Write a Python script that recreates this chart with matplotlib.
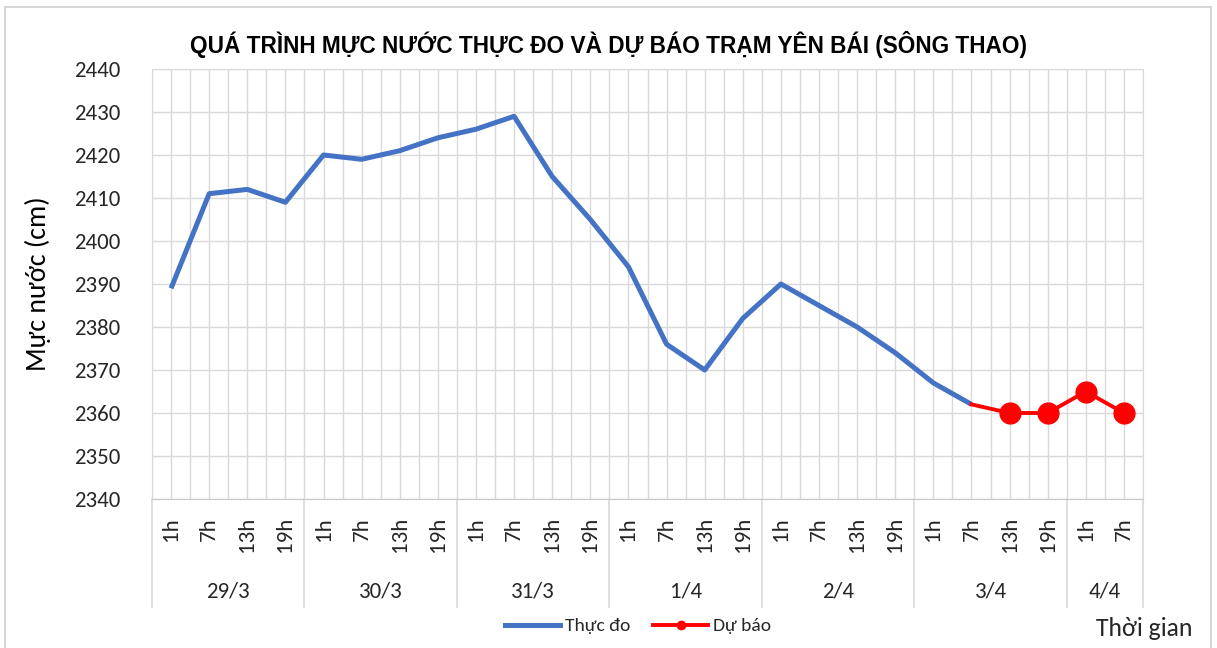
import matplotlib
matplotlib.use("Agg")
import matplotlib.pyplot as plt
import matplotlib.transforms as mtransforms
from matplotlib.lines import Line2D
from matplotlib.patches import Rectangle

# ---------------- data ----------------
days = ["29/3", "30/3", "31/3", "1/4", "2/4", "3/4", "4/4"]
day_sizes = [4, 4, 4, 4, 4, 4, 2]
hours = ["1h", "7h", "13h", "19h"] * 6 + ["1h", "7h"]

observed = [2389, 2411, 2412, 2409,
            2420, 2419, 2421, 2424,
            2426, 2429, 2415, 2405,
            2394, 2376, 2370, 2382,
            2390, 2385, 2380, 2374,
            2367, 2362]
forecast_start = 21
forecast = [2362, 2360, 2360, 2365, 2360]

title = "QUÁ TRÌNH MỰC NƯỚC THỰC ĐO VÀ DỰ BÁO TRẠM YÊN BÁI (SÔNG THAO)"
ylabel = "Mực nước (cm)"
xlabel = "Thời gian"
legend_labels = ["Thực đo", "Dự báo"]

# ---------------- style ----------------
FONT = ["Carlito", "Liberation Sans", "DejaVu Sans"]
TITLE_FONT = ["Liberation Sans Narrow", "Liberation Sans", "DejaVu Sans"]
plt.rcParams["font.family"] = FONT
BLUE = "#4472C4"
RED = "#FF0000"
GRID = "#d9d9d9"
TXT = "#262626"

fig = plt.figure(figsize=(12.17, 6.48), dpi=100)
fig.patch.set_facecolor("white")
ax = fig.add_axes([152 / 1217, 1 - 499 / 648, (1143 - 152) / 1217, (499 - 69) / 648])

n = len(hours)
x_obs = list(range(len(observed)))
x_fc = list(range(forecast_start, forecast_start + len(forecast)))

ax.plot(x_obs, observed, color=BLUE, lw=3.6, solid_capstyle="butt",
        solid_joinstyle="round", zorder=3)
ax.plot(x_fc, forecast, color=RED, lw=2.8, marker="o", markersize=15,
        markevery=list(range(1, len(forecast))), solid_joinstyle="round", zorder=4)

ax.set_xlim(-0.5, n - 0.5)
ax.set_ylim(2340, 2440)
ax.set_yticks(range(2340, 2441, 10))
ax.tick_params(axis="y", length=0, pad=23, labelsize=16.5, labelcolor=TXT)

ax.set_xticks(range(n))
ax.set_xticklabels(hours, rotation=90, fontsize=16.5, color=TXT)
ax.set_xticks([i - 0.5 for i in range(n + 1)], minor=True)
ax.tick_params(axis="x", which="both", length=0, pad=13)

ax.grid(axis="y", color=GRID, lw=1.0)
ax.grid(axis="x", which="major", color=GRID, lw=1.0)
ax.grid(axis="x", which="minor", color=GRID, lw=1.0)
ax.set_axisbelow(True)
for s in ["left", "right", "top"]:
    ax.spines[s].set_color(GRID)
ax.spines["bottom"].set_color("#c8c8c8")

# day group labels and separators
trans = mtransforms.blended_transform_factory(ax.transData, ax.transAxes)
pos = -0.5
bounds = [pos]
for d, sz in zip(days, day_sizes):
    center = pos + sz / 2
    ax.text(center, -0.215, d, transform=trans, ha="center", va="center",
            fontsize=16.5, color=TXT)
    pos += sz
    bounds.append(pos)
for b in bounds:
    ax.add_line(Line2D([b, b], [0, -0.252], transform=trans, color=GRID,
                       lw=1.2, clip_on=False))

ax.set_ylabel(ylabel, fontsize=20, color="black", labelpad=16)
fig.text(1193 / 1217, 1 - 629 / 648, xlabel, ha="right", va="center",
         fontsize=18.5, color=TXT)
fig.text(608 / 1217, 1 - 44 / 648, title, ha="center", va="center",
         fontsize=16.3, fontweight="bold", family=TITLE_FONT, color="black")

handles = [Line2D([0], [0], color=BLUE, lw=3.6),
           Line2D([0], [0], color=RED, lw=2.8, marker="o", markersize=6)]
fig.legend(handles, legend_labels, loc="center", bbox_to_anchor=(638 / 1217, 1 - 626 / 648),
           ncol=2, frameon=False, fontsize=14, handlelength=2.8, handletextpad=0.25,
           columnspacing=1.2, labelcolor=TXT)

# outer chart border
fig.add_artist(Rectangle((5 / 1217, -0.01), (1211 - 5) / 1217, 1 - 7 / 648 + 0.01,
                         transform=fig.transFigure, fill=False, edgecolor="#d0d0d0", lw=1.2))

fig.savefig("out.png", dpi=100)
